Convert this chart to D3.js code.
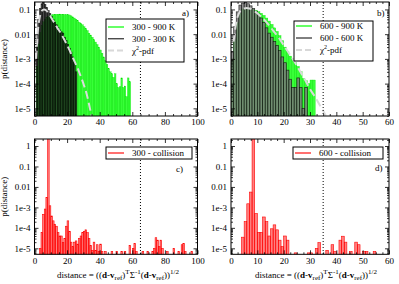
<!DOCTYPE html>
<html>
<head>
<meta charset="utf-8">
<script src="https://cdn.jsdelivr.net/npm/d3@7"></script>
<style>
  body { margin: 0; background: #fff; }
  text { font-family: "Liberation Serif", "DejaVu Serif", serif; font-size: 9px; fill: #000; }
</style>
</head>
<body>
<svg id="fig" width="399" height="284"></svg>
<script>
// ---- data (histograms, bins of width 1) ----
var binW = 1;

// a) 300 K reference
var green300_900 = [0, 5e-4, 0.004, 0.012, 0.022, 0.032, 0.04, 0.047, 0.052, 0.056,
  0.06, 0.062, 0.063, 0.064, 0.064, 0.065, 0.064, 0.064, 0.063, 0.062,
  0.061, 0.06, 0.055, 0.05, 0.045, 0.04, 0.035, 0.03, 0.027, 0.024,
  0.02, 0.017, 0.014, 0.011, 0.0092, 0.0075, 0.006, 0.0048, 0.0038, 0.003,
  0.0023, 0.0017, 0.0012, 8.5e-4, 6e-4, 4e-4, 3e-4, 2.5e-4, 1.8e-4, 2.5e-4,
  1e-4, 7e-5, 7.5e-5, 1.7e-4, 7e-5, 8e-5, 3e-5, 1.7e-4, 1.2e-4];
var black300_300 = [0, 0.004, 0.04, 0.11, 0.17, 0.19, 0.16, 0.12, 0.09, 0.068,
  0.052, 0.04, 0.031, 0.024, 0.019, 0.015, 0.0125, 0.011, 0.0075, 0.0055,
  0.0038, 0.0027, 0.0019, 0.0012, 7e-4, 3e-4];
var chiA_x = [1, 2, 3, 4, 5, 6, 7, 8, 9, 10, 12, 14, 16, 18, 20, 22, 24, 26, 28, 30, 32, 34, 35];
var chiA_p = [1e-3, 0.012, 0.04, 0.075, 0.095, 0.1, 0.093, 0.08, 0.065, 0.05, 0.03, 0.018,
  0.0115, 0.0065, 0.0036, 0.0019, 9.5e-4, 5e-4, 2.3e-4, 1e-4, 3.8e-5, 1e-5, 5e-6];

// b) 600 K reference
var green600_900 = [0.001, 0.006, 0.03, 0.07, 0.105, 0.12, 0.12, 0.112, 0.103, 0.092,
  0.082, 0.07, 0.058, 0.045, 0.034, 0.025, 0.018, 0.013, 0.0088, 0.0055,
  0.003, 0.002, 0.0013, 0.001, 7e-4, 5e-4, 3e-4, 1.6e-4, 1.3e-4, 1e-4,
  1.4e-4, 1.4e-4];
var black600_600 = [0.002, 0.02, 0.08, 0.15, 0.18, 0.19, 0.17, 0.14, 0.11, 0.085,
  0.065, 0.045, 0.03, 0.018, 0.011, 0.0075, 0.005, 0.0035, 0.0022, 0.0012,
  7e-4, 3.5e-4, 1.5e-4, 7e-5, 7e-5, 1.7e-4, 7e-5, 1e-5, 7e-5];
var chiB_x = [1, 2, 3, 4, 5, 6, 7, 8, 9, 10, 12, 14, 16, 18, 20, 22, 24, 26, 28, 30, 32, 34, 35, 36];
var chiB_p = [0.005, 0.03, 0.07, 0.1, 0.11, 0.115, 0.11, 0.1, 0.085, 0.07, 0.045, 0.026,
  0.014, 0.0075, 0.0036, 0.0017, 8e-4, 3.5e-4, 1.5e-4, 6e-5, 2.8e-5, 1.2e-5, 8e-6, 5e-6];

// c) 300 - collision (left bin edges)
var coll300_d = [3, 4, 5, 6, 7, 8, 9, 10, 11, 12, 13, 14, 15, 16, 17, 18, 19, 20, 21, 22,
  23, 24, 25, 26, 27, 28, 29, 30, 31, 32, 33, 34, 35, 36, 37, 38, 39, 40, 41, 43,
  47, 50, 53, 55, 58, 60, 61, 62, 66, 69, 72, 73, 74, 75, 76, 77, 78, 81, 85, 88,
  90, 91, 92, 96];
var coll300_p = [1e-5, 5.8e-5, 4.6e-4, 8.3e-4, 3e-3, 5, 1.2e-3, 3.8e-4, 2.2e-4, 1.5e-4,
  1.2e-4, 5.8e-5, 4e-5, 4e-5, 1.9e-5, 3e-5, 1.2e-4, 2.2e-4, 6.8e-5, 2e-5,
  1.2e-5, 2e-5, 2.3e-5, 1.6e-5, 3e-5, 4e-5, 5.8e-5, 6.8e-5, 8e-5, 5.8e-5,
  3e-5, 1.4e-5, 8e-6, 2e-5, 8e-6, 1.5e-5, 7e-6, 1.6e-5, 7e-6, 7e-6,
  7e-6, 7e-6, 7e-6, 7e-6, 1.4e-5, 1e-5, 1.7e-5, 7e-6, 7e-6, 7e-6,
  7e-6, 1e-5, 3.3e-5, 2.5e-5, 1.2e-5, 2.5e-5, 1e-5, 7e-6, 1e-5, 7e-6,
  1.5e-5, 1.7e-5, 7e-6, 7e-6];

// d) 600 - collision (left bin edges)
var coll600_d = [4, 5, 6, 7, 8, 9, 10, 11, 12, 13, 14, 15, 16, 17, 18, 19, 20, 21,
  24, 29, 30, 32, 33, 36, 38, 39, 41, 42, 43, 45, 47, 48, 50, 51, 54];
var coll600_p = [3.5e-5, 2e-4, 1.5e-3, 5.6e-3, 5, 5e-4, 6e-5, 6e-5, 3.4e-4, 2e-4,
  4e-5, 9e-5, 1.4e-4, 8e-5, 2.5e-5, 1.2e-5, 4e-5, 2.5e-5,
  6e-6, 6e-6, 6e-6, 1e-5, 1.9e-5, 8e-6, 1.5e-5, 7e-6, 2.5e-5, 3.9e-5, 2e-5, 7e-6,
  2e-5, 1.5e-5, 7e-6, 7e-6, 7e-6];

var xTicks100 = [0, 20, 40, 60, 80, 100];
var xTicks60 = [0, 10, 20, 30, 40, 50, 60];
var yTicksTop = [0.1, 0.01, 1e-3, 1e-4, 1e-5];
var yLabelsTop = ["0.1", "0.01", "1e-3", "1e-4", "1e-5"];
var yTicksBot = [1, 0.1, 0.01, 1e-3, 1e-4, 1e-5];
var yLabelsBot = ["1", "0.1", "0.01", "1e-3", "1e-4", "1e-5"];

var svg = d3.select("#fig");
var clipId = 0;

function denseBins(vals) {
  return vals.map(function(v, i) { return {x: i * binW, p: v}; });
}
function sparseBins(xs, ps) {
  return xs.map(function(v, i) { return {x: v, p: ps[i]}; });
}

function panel(p) {
  var g = svg.append("g");
  var x = d3.scaleLinear().domain([0, p.xMax]).range([p.left, p.right]);
  var y = d3.scaleLog().domain([p.yMin, p.yMax]).range([p.bottom, p.top]);

  var id = "clip" + (clipId++);
  svg.append("clipPath").attr("id", id).append("rect")
    .attr("x", p.left).attr("y", p.top)
    .attr("width", p.right - p.left).attr("height", p.bottom - p.top);
  var plot = g.append("g").attr("clip-path", "url(#" + id + ")");

  p.hists.forEach(function(h) {
    plot.append("g").selectAll("rect")
      .data(h.data.filter(function(d) { return d.p > 0; }))
      .enter().append("rect")
        .attr("x", function(d) { return x(d.x); })
        .attr("width", function(d) { return x(d.x + binW) - x(d.x); })
        .attr("y", function(d) { return y(Math.min(d.p, p.yMax * 2)); })
        .attr("height", function(d) { return p.bottom + 2 - y(Math.min(d.p, p.yMax * 2)); })
        .attr("fill", h.fill).attr("fill-opacity", h.fillOpacity)
        .attr("stroke", h.stroke).attr("stroke-width", h.strokeWidth)
        .attr("stroke-opacity", h.strokeOpacity);
  });

  if (p.chi) {
    var line = d3.line()
      .x(function(d) { return x(d[0]); })
      .y(function(d) { return y(d[1]); })
      .curve(d3.curveMonotoneX);
    plot.append("path")
      .attr("d", line(p.chi.x.map(function(v, i) { return [v, p.chi.p[i]]; })))
      .attr("fill", "none").attr("stroke", "#dadada")
      .attr("stroke-width", 2).attr("stroke-dasharray", "8,4");
  }

  // dotted threshold
  g.append("line")
    .attr("x1", x(p.cut)).attr("x2", x(p.cut))
    .attr("y1", p.top).attr("y2", p.bottom)
    .attr("stroke", "#000").attr("stroke-width", 1).attr("stroke-dasharray", "1,2");

  // axes
  var minorX = d3.range(0, p.xMax + 0.001, p.xMinor).filter(function(v) { return p.xTicks.indexOf(v) < 0; });
  var minorY = [];
  for (var e = -6; e <= 0; e++) for (var m = 2; m <= 9; m++) {
    var v = m * Math.pow(10, e);
    if (v > p.yMin && v < p.yMax) minorY.push(v);
  }

  g.append("g").attr("transform", "translate(0," + p.bottom + ")")
    .call(d3.axisBottom(x).tickValues(p.xTicks).tickSizeInner(-4).tickSizeOuter(0).tickPadding(3)
      .tickFormat(function(d) { return d; }));
  g.append("g").attr("transform", "translate(0," + p.bottom + ")")
    .call(d3.axisBottom(x).tickValues(minorX).tickSize(-2).tickFormat(""));
  g.append("g").attr("transform", "translate(0," + p.top + ")")
    .call(d3.axisTop(x).tickValues(p.xTicks).tickSize(-4).tickFormat(""));
  g.append("g").attr("transform", "translate(0," + p.top + ")")
    .call(d3.axisTop(x).tickValues(minorX).tickSize(-2).tickFormat(""));

  g.append("g").attr("transform", "translate(" + p.left + ",0)")
    .call(d3.axisLeft(y).tickValues(p.yTicks).tickSizeInner(-4).tickSizeOuter(0).tickPadding(4)
      .tickFormat(function(d, i) { return p.yLabels[i]; }));
  g.append("g").attr("transform", "translate(" + p.left + ",0)")
    .call(d3.axisLeft(y).tickValues(minorY).tickSize(-2).tickFormat(""));
  g.append("g").attr("transform", "translate(" + p.right + ",0)")
    .call(d3.axisRight(y).tickValues(p.yTicks).tickSize(-4).tickFormat(""));
  g.append("g").attr("transform", "translate(" + p.right + ",0)")
    .call(d3.axisRight(y).tickValues(minorY).tickSize(-2).tickFormat(""));

  g.selectAll(".domain").remove();
  g.selectAll(".tick text").attr("font-size", null).attr("font-family", null);
  g.selectAll(".tick line").attr("stroke-width", 0.8);

  g.append("rect")
    .attr("x", p.left).attr("y", p.top)
    .attr("width", p.right - p.left).attr("height", p.bottom - p.top)
    .attr("fill", "none").attr("stroke", "#000").attr("stroke-width", 1);

  // panel letter
  g.append("text").attr("x", p.letterX).attr("y", p.letterY)
    .attr("font-size", "9.5px").text(p.letter);

  // legend
  var lg = g.append("g");
  lg.append("rect")
    .attr("x", p.legend.x).attr("y", p.legend.y)
    .attr("width", p.legend.w).attr("height", p.legend.h)
    .attr("fill", "#fff").attr("stroke", "#000").attr("stroke-width", 1);
  p.legend.items.forEach(function(it, i) {
    var cy = p.legend.y + p.legend.row0 + i * p.legend.step;
    lg.append("line")
      .attr("x1", p.legend.x + 2).attr("x2", p.legend.x + 18)
      .attr("y1", cy).attr("y2", cy)
      .attr("stroke", it.color).attr("stroke-width", it.width)
      .attr("stroke-dasharray", it.dash || null);
    var t = lg.append("text").attr("x", p.legend.x + 26).attr("y", cy + 3);
    if (it.chi) {
      t.append("tspan").text("\u03c7");
      t.append("tspan").attr("font-size", "6px").attr("dy", -4).text("2");
      t.append("tspan").attr("dy", 4).text("-pdf");
    } else {
      t.text(it.label);
    }
  });

  if (p.ylab) {
    g.append("text")
      .attr("transform", "translate(7," + (p.top + p.bottom) / 2 + ") rotate(-90)")
      .attr("text-anchor", "middle").text("p(distance)");
  }
  if (p.xlab) {
    var t = g.append("text").attr("x", p.xlabX).attr("y", 278)
      .attr("text-anchor", "middle").attr("font-size", "10px");
    var sub = function(s) { t.append("tspan").attr("font-size", "7px").attr("dy", 2).text(s); };
    var sup = function(s, dy) { t.append("tspan").attr("font-size", "7px").attr("dy", dy).text(s); };
    t.append("tspan").text("distance = ((");
    t.append("tspan").attr("font-weight", "bold").text("d");
    t.append("tspan").text("-");
    t.append("tspan").attr("font-weight", "bold").text("v");
    sub("ref");
    t.append("tspan").attr("dy", -2).text(")");
    sup("T", -4);
    t.append("tspan").attr("dy", 4).text("\u03a3");
    sup("-1", -4);
    t.append("tspan").attr("dy", 4).text("(");
    t.append("tspan").attr("font-weight", "bold").text("d");
    t.append("tspan").text("-");
    t.append("tspan").attr("font-weight", "bold").text("v");
    sub("ref");
    t.append("tspan").attr("dy", -2).text("))");
    sup("1/2", -4);
  }
}

var greenStyle = {fill: "#00ff00", fillOpacity: 0.78, stroke: "#00dd00", strokeWidth: 0.3, strokeOpacity: 1};
var darkStyle = {fill: "#1e1e1e", fillOpacity: 0.78, stroke: "#000", strokeWidth: 0.6, strokeOpacity: 0.8};
var grayStyle = {fill: "#7a7a7a", fillOpacity: 0.85, stroke: "#000", strokeWidth: 0.7, strokeOpacity: 0.75};
var redStyle = {fill: "#ff0000", fillOpacity: 0.5, stroke: "#ff0000", strokeWidth: 0.6, strokeOpacity: 1};

function hist(style, data) {
  return Object.assign({data: data}, style);
}

var topY = {top: 2, bottom: 116, yMin: 4.9e-6, yMax: 0.2, yTicks: yTicksTop, yLabels: yLabelsTop};
var botY = {top: 139, bottom: 254.3, yMin: 5.1e-6, yMax: 2.2, yTicks: yTicksBot, yLabels: yLabelsBot};
var leftX = {left: 34.5, right: 197.5, xMax: 100, xTicks: xTicks100, xMinor: 5, cut: 65};
var rightX = {left: 231, right: 389, xMax: 60, xTicks: xTicks60, xMinor: 2.5, cut: 35};

panel(Object.assign({}, topY, leftX, {
  hists: [hist(greenStyle, denseBins(green300_900)),
          hist(darkStyle, denseBins(black300_300))],
  chi: {x: chiA_x, p: chiA_p},
  letter: "a)", letterX: 182, letterY: 16, ylab: true,
  legend: {x: 106, y: 19, w: 78, h: 43, row0: 8, step: 11.8, items: [
    {label: "300 - 900 K", color: "#00ff00", width: 1.2},
    {label: "300 - 300 K", color: "#000", width: 1},
    {chi: true, color: "#d8d8d8", width: 2, dash: "6,3"}]}
}));

panel(Object.assign({}, topY, rightX, {
  hists: [hist(greenStyle, denseBins(green600_900)),
          hist(grayStyle, denseBins(black600_600))],
  chi: {x: chiB_x, p: chiB_p},
  letter: "b)", letterX: 377, letterY: 16,
  legend: {x: 294, y: 21, w: 79, h: 40, row0: 5, step: 12, items: [
    {label: "600 - 900 K", color: "#00ff00", width: 1.2},
    {label: "600 - 600 K", color: "#000", width: 1},
    {chi: true, color: "#d8d8d8", width: 2, dash: "6,3"}]}
}));

panel(Object.assign({}, botY, leftX, {
  hists: [hist(redStyle, sparseBins(coll300_d, coll300_p))],
  letter: "c)", letterX: 176, letterY: 172, ylab: true, xlab: true, xlabX: 118,
  legend: {x: 106, y: 147, w: 86, h: 12, row0: 6, step: 12, items: [
    {label: "300 - collision", color: "#ff7070", width: 2}]}
}));

panel(Object.assign({}, botY, rightX, {
  hists: [hist(redStyle, sparseBins(coll600_d, coll600_p))],
  letter: "d)", letterX: 375, letterY: 171, xlab: true, xlabX: 316,
  legend: {x: 293, y: 147, w: 90, h: 12, row0: 6, step: 12, items: [
    {label: "600 - collision", color: "#ff7070", width: 2}]}
}));
</script>
</body>
</html>
